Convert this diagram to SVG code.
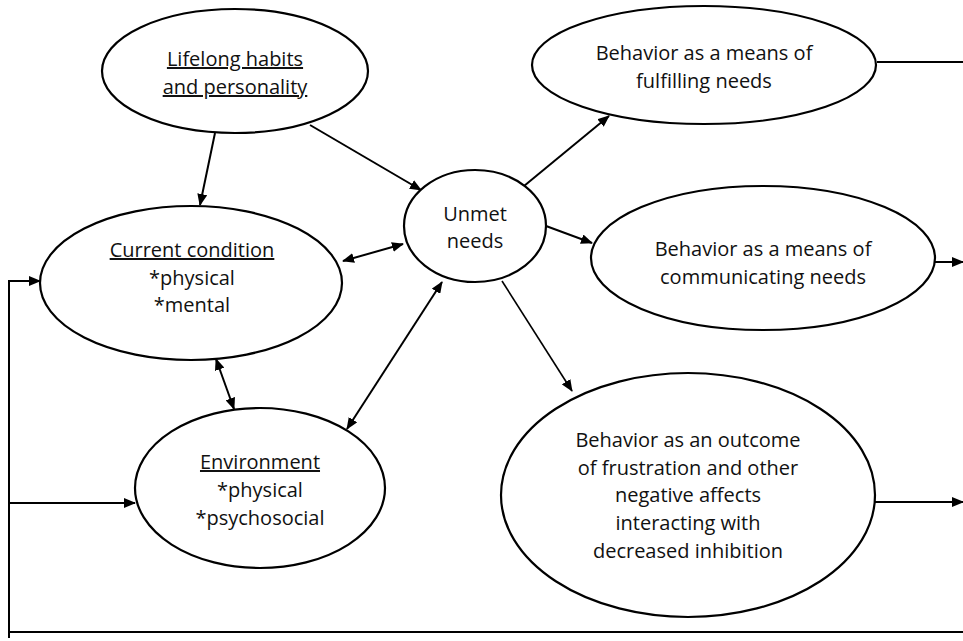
<svg xmlns="http://www.w3.org/2000/svg" width="963" height="641" viewBox="0 0 963 641">
<style>
.n{fill:#fff;stroke:#000;stroke-width:2.2}
.t{font-family:"Open Sans","Liberation Sans",sans-serif;font-size:20px;fill:#111;text-anchor:middle}
.u{text-decoration:underline}
.c{fill:none;stroke:#000;stroke-width:2}
.thin{stroke-width:1.6}
</style>
<defs>
<marker id="ah" viewBox="0 0 12 10" refX="11" refY="5" markerWidth="12" markerHeight="10" markerUnits="userSpaceOnUse" orient="auto-start-reverse">
<path d="M0,0 L12,5 L0,10 z" fill="#000"/>
</marker>
</defs>
<g id="connectors">
<line class="c" x1="215" y1="133" x2="200" y2="205" marker-end="url(#ah)"/>
<line class="c" x1="310" y1="125" x2="421" y2="190" marker-end="url(#ah)"/>
<line class="c" x1="343" y1="261" x2="403" y2="244" marker-start="url(#ah)" marker-end="url(#ah)"/>
<line class="c" x1="216" y1="359" x2="234" y2="409" marker-start="url(#ah)" marker-end="url(#ah)"/>
<line class="c" x1="347" y1="429" x2="442" y2="282" marker-start="url(#ah)" marker-end="url(#ah)"/>
<line class="c" x1="524" y1="186" x2="609" y2="116" marker-end="url(#ah)"/>
<line class="c" x1="546" y1="226" x2="592" y2="243" marker-end="url(#ah)"/>
<line class="c thin" x1="502" y1="281" x2="572" y2="391" marker-end="url(#ah)"/>
<line class="c" x1="877" y1="62" x2="963" y2="62"/>
<line class="c" x1="935" y1="262" x2="963" y2="262" marker-end="url(#ah)"/>
<line class="c" x1="875" y1="502" x2="963" y2="502" marker-end="url(#ah)"/>
<polyline class="c" points="963,632 9,632 9,281 40,281" marker-end="url(#ah)"/>
<line class="c" x1="9" y1="638" x2="9" y2="632"/>
<line class="c" x1="9" y1="503" x2="135" y2="503" marker-end="url(#ah)"/>
</g>
<g id="lifelong">
<ellipse class="n" cx="235" cy="71" rx="133" ry="62"/>
<text class="t u" x="235" y="66">Lifelong habits</text>
<text class="t u" x="235" y="94">and personality</text>
</g>
<g id="fulfilling">
<ellipse class="n" cx="704" cy="65" rx="172" ry="59"/>
<text class="t" x="704" y="60">Behavior as a means of</text>
<text class="t" x="704" y="88">fulfilling needs</text>
</g>
<g id="unmet">
<ellipse class="n" cx="475" cy="226" rx="71" ry="56"/>
<text class="t" x="475" y="221">Unmet</text>
<text class="t" x="475" y="248">needs</text>
</g>
<g id="current">
<ellipse class="n" cx="191" cy="283" rx="151" ry="77"/>
<text class="t u" x="192" y="257">Current condition</text>
<text class="t" x="192" y="285">*physical</text>
<text class="t" x="192" y="312">*mental</text>
</g>
<g id="communicating">
<ellipse class="n" cx="763" cy="258" rx="172" ry="72"/>
<text class="t" x="763" y="256">Behavior as a means of</text>
<text class="t" x="763" y="284">communicating needs</text>
</g>
<g id="environment">
<ellipse class="n" cx="260" cy="488" rx="125" ry="80"/>
<text class="t u" x="260" y="469">Environment</text>
<text class="t" x="260" y="497">*physical</text>
<text class="t" x="260" y="525">*psychosocial</text>
</g>
<g id="outcome">
<ellipse class="n" cx="688" cy="495" rx="187" ry="122"/>
<text class="t" x="688" y="447">Behavior as an outcome</text>
<text class="t" x="688" y="475">of frustration and other</text>
<text class="t" x="688" y="502">negative affects</text>
<text class="t" x="688" y="530">interacting with</text>
<text class="t" x="688" y="558">decreased inhibition</text>
</g>
</svg>
